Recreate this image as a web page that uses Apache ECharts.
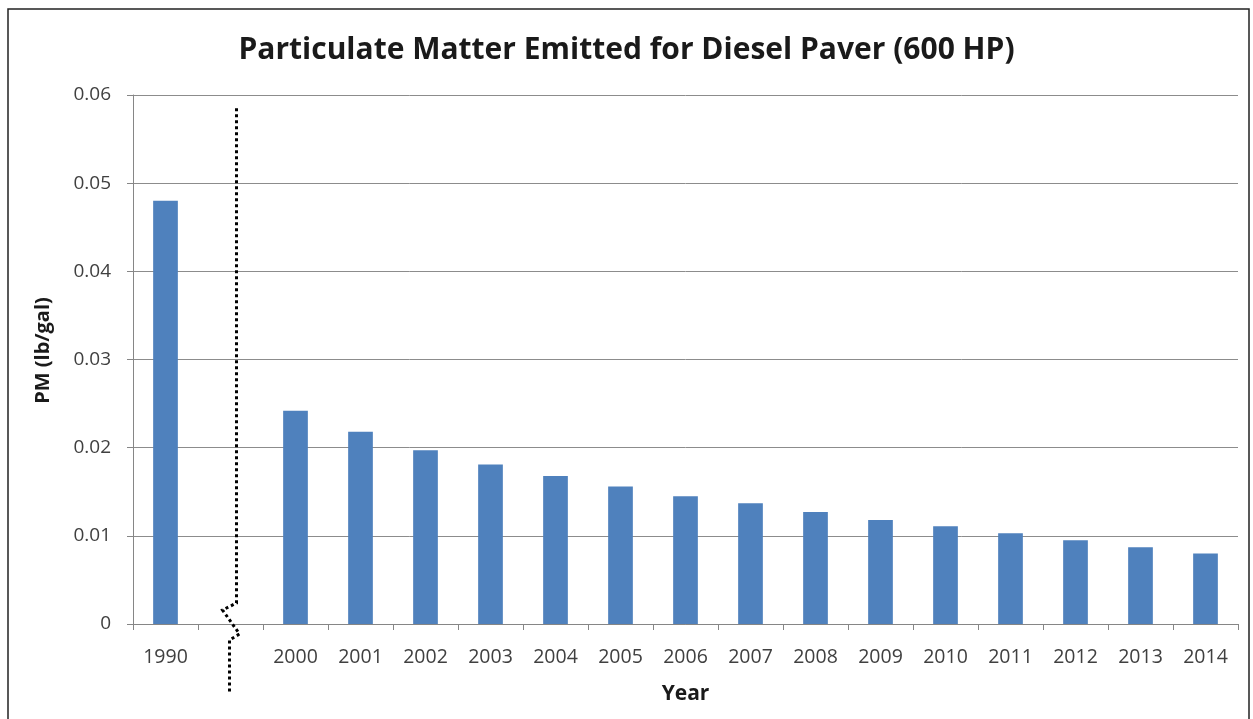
<!DOCTYPE html>
<html><head><meta charset="utf-8">
<script src="https://cdn.jsdelivr.net/npm/echarts@6/dist/echarts.min.js"></script>
<style>html,body{margin:0;padding:0;background:#fff}#c{width:1253px;height:719px}</style>
</head><body><div id="c"></div>
<script>
const categories = ['1990', '', '2000', '2001', '2002', '2003', '2004', '2005', '2006', '2007', '2008', '2009', '2010', '2011', '2012', '2013', '2014'];
const pmValues = [0.048, null, 0.0242, 0.0218, 0.0197, 0.0181, 0.0168, 0.0156, 0.0145, 0.0137, 0.0127, 0.0118, 0.0111, 0.0103, 0.0095, 0.0087, 0.0080];
const yTicks = [0, 0.01, 0.02, 0.03, 0.04, 0.05, 0.06];
const breakCategory = 1;

const chart = echarts.init(document.getElementById('c'), null, {renderer: 'canvas'});
const font = '"Open Sans", "Noto Sans", sans-serif';
const option = {
  animation: false,
  backgroundColor: '#fff',
  title: {
    text: 'Particulate Matter Emitted for Diesel Paver (600 HP)',
    left: 'center', top: 30,
    textStyle: {fontFamily: font, fontSize: 30, fontWeight: 'bold', color: '#1a1a1a'}
  },
  grid: {left: 133, right: 15, top: 95, bottom: 95},
  xAxis: {
    type: 'category', data: categories,
    name: 'Year', nameLocation: 'middle', nameGap: 60,
    nameTextStyle: {fontFamily: font, fontSize: 21, fontWeight: 'bold', color: '#1a1a1a'},
    axisLine: {lineStyle: {color: '#868686', width: 1}},
    axisTick: {show: true, alignWithLabel: false, length: 6, lineStyle: {color: '#868686'}},
    axisLabel: {fontFamily: font, fontSize: 19.5, color: '#404040', margin: 23, interval: 0}
  },
  yAxis: {
    type: 'value', min: yTicks[0], max: yTicks[yTicks.length - 1], interval: 0.01,
    name: 'PM (lb/gal)', nameLocation: 'middle', nameGap: 80, nameRotate: 90,
    nameTextStyle: {fontFamily: font, fontSize: 20, fontWeight: 'bold', color: '#1a1a1a', padding: [0, 0, 0, 18]},
    axisLine: {show: true, lineStyle: {color: '#868686', width: 1}},
    axisTick: {show: true, length: 6, lineStyle: {color: '#868686'}},
    axisLabel: {fontFamily: font, fontSize: 19, color: '#404040', margin: 22,
      formatter: v => yTicks.includes(+v.toFixed(2)) ? (v === 0 ? '0' : v.toFixed(2)) : ''},
    splitLine: {show: true, lineStyle: {color: '#8c8c8c', width: 1}}
  },
  series: [{
    type: 'bar', data: pmValues, barWidth: '38%',
    itemStyle: {color: '#4F81BD'}
  }]
};
chart.setOption(option);

// break marker placed at the blank category via the axis scale
const cx = chart.convertToPixel({xAxisIndex: 0}, breakCategory);
const yTop = chart.convertToPixel({yAxisIndex: 0}, 0.0585);
const y0 = chart.convertToPixel({yAxisIndex: 0}, 0);
chart.setOption({
  graphic: [
    {type: 'rect', shape: {x: 8, y: 9, width: 1241, height: 720}, style: {fill: null, stroke: '#222', lineWidth: 1.5}, silent: true},
    {type: 'polyline', shape: {points: [[cx + 6, yTop], [cx + 6, y0 - 21], [cx - 8, y0 - 14], [cx + 9, y0 + 10], [cx - 1, y0 + 16], [cx - 1, y0 + 68]]},
      style: {stroke: '#000', lineWidth: 3, lineDash: [3, 3], fill: null}, silent: true, z: 100}
  ]
});
</script></body></html>
